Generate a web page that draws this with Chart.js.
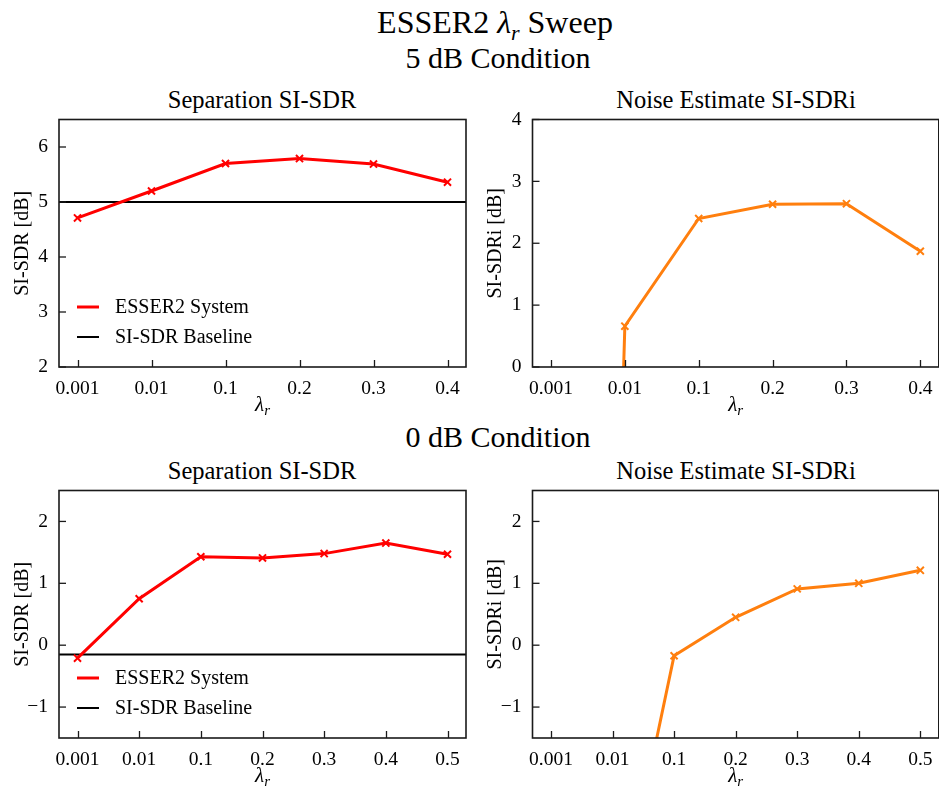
<!DOCTYPE html>
<html>
<head>
<meta charset="utf-8">
<script src="https://cdn.jsdelivr.net/npm/chart.js@4"></script>
<style>
  body { margin: 0; background: #fff; }
  #fig { position: relative; width: 939px; height: 793px; overflow: hidden; background: #fff;
         font-family: "Liberation Serif", "Times New Roman", serif; color: #000; }
  .txt { position: absolute; white-space: nowrap; transform: translateX(-50%); line-height: 1; }
  canvas { position: absolute; }
</style>
</head>
<body>
<div id="fig">
  <div class="txt" style="left:495px; top:6px; font-size:32px;">ESSER2 <i>λ<sub style="font-size:22px;">r</sub></i> Sweep</div>
  <div class="txt" style="left:498px; top:43px; font-size:30px;">5 dB Condition</div>
  <div class="txt" style="left:498px; top:422px; font-size:30px;">0 dB Condition</div>
  <div class="txt" style="left:262px; top:88px; font-size:24.5px;">Separation SI-SDR</div>
  <div class="txt" style="left:736px; top:88px; font-size:24.5px;">Noise Estimate SI-SDRi</div>
  <div class="txt" style="left:262px; top:459px; font-size:24.5px;">Separation SI-SDR</div>
  <div class="txt" style="left:736px; top:459px; font-size:24.5px;">Noise Estimate SI-SDRi</div>
  <canvas id="c5sep" width="470" height="310" style="left:0; top:110px;"></canvas>
  <canvas id="c5noise" width="469" height="310" style="left:470px; top:110px;"></canvas>
  <canvas id="c0sep" width="470" height="310" style="left:0; top:481px;"></canvas>
  <canvas id="c0noise" width="469" height="310" style="left:470px; top:481px;"></canvas>
</div>
<script>
// lambda_r values on the x axis
const lambdas5 = ['0.001', '0.01', '0.1', '0.2', '0.3', '0.4'];
const lambdas0 = ['0.001', '0.01', '0.1', '0.2', '0.3', '0.4', '0.5'];

// 5 dB condition
const sep5 = [4.71, 5.20, 5.70, 5.79, 5.69, 5.36];
const baseline5 = 5.0;
const noise5 = [-40, 0.66, 2.40, 2.63, 2.64, 1.87];

// 0 dB condition
const sep0 = [-0.21, 0.75, 1.43, 1.41, 1.48, 1.65, 1.47];
const baseline0 = -0.15;
const noise0 = [-9, -4.9, -0.17, 0.45, 0.91, 1.00, 1.21];

// y tick labels
const yTicksSep5 = [2, 3, 4, 5, 6];
const yTicksNoise5 = [0, 1, 2, 3, 4];
const yTicks0 = [-1, 0, 1, 2];

Chart.defaults.font.family = '"Liberation Serif", "Times New Roman", serif';
Chart.defaults.color = '#000';

const RED = '#ff0000';
const ORANGE = '#ff7f0e';

// frame, inward ticks, lambda_r label and the legend inside the axes
const axesDecor = {
    id: 'axesDecor',
    afterDatasetsDraw(chart, args, opts) {
        const { ctx, chartArea: a, scales } = chart;
        ctx.save();
        ctx.strokeStyle = '#1a1a1a';
        ctx.lineWidth = 1.3;
        scales.x.ticks.forEach(t => {
            const px = Math.round(scales.x.getPixelForValue(t.value)) + 0.5;
            ctx.beginPath(); ctx.moveTo(px, a.bottom); ctx.lineTo(px, a.bottom - 7); ctx.stroke();
        });
        scales.y.ticks.forEach(t => {
            const py = scales.y.getPixelForValue(t.value);
            ctx.beginPath(); ctx.moveTo(a.left, py); ctx.lineTo(a.left + 7, py); ctx.stroke();
        });
        ctx.lineWidth = 1.6;
        ctx.strokeRect(a.left, a.top, a.width, a.height);

        // x axis title: italic lambda with subscript r
        ctx.fillStyle = '#000';
        ctx.textBaseline = 'alphabetic';
        ctx.font = 'italic 21px "Liberation Serif"';
        const wl = ctx.measureText('λ').width;
        ctx.font = 'italic 15px "Liberation Serif"';
        const wr = ctx.measureText('r').width;
        const x0 = (a.left + a.right) / 2 - (wl + wr) / 2;
        const yb = a.bottom + 44;
        ctx.font = 'italic 21px "Liberation Serif"';
        ctx.fillText('λ', x0, yb);
        ctx.font = 'italic 15px "Liberation Serif"';
        ctx.fillText('r', x0 + wl, yb + 4);

        if (opts.legend) {
            ctx.font = '20px "Liberation Serif"';
            ctx.textBaseline = 'middle';
            chart.data.datasets.forEach((ds, i) => {
                const y = a.bottom - 60 + i * 30;
                ctx.strokeStyle = ds.borderColor;
                ctx.lineWidth = ds.borderWidth;
                ctx.beginPath(); ctx.moveTo(a.left + 18, y); ctx.lineTo(a.left + 40, y); ctx.stroke();
                ctx.fillText(ds.label, a.left + 56, y + 1);
            });
        }
        ctx.restore();
    }
};

function systemSet(label, values, color) {
    return {
        label: label,
        data: values.map((v, i) => ({ x: i, y: v })),
        borderColor: color,
        backgroundColor: color,
        borderWidth: 3,
        pointStyle: 'crossRot',
        pointRadius: 5,
        pointBorderWidth: 2,
        pointBorderColor: color,
        tension: 0
    };
}

function baselineSet(value, n, pad) {
    return {
        label: 'SI-SDR Baseline',
        data: [{ x: -pad, y: value }, { x: n - 1 + pad, y: value }],
        borderColor: '#000',
        borderWidth: 2,
        pointRadius: 0
    };
}

function makeChart(id, labels, datasets, yMin, yMax, yTicks, yTitle, yWidth, titlePad, rightPad, legend) {
    const pad = (labels.length - 1) * 0.05;
    return new Chart(document.getElementById(id), {
        type: 'line',
        data: { datasets: datasets },
        options: {
            responsive: false,
            animation: false,
            layout: { autoPadding: false, padding: { top: 9.5, right: rightPad, left: 0, bottom: 0 } },
            plugins: {
                legend: { display: false },
                tooltip: { enabled: false },
                axesDecor: { legend: legend }
            },
            scales: {
                x: {
                    type: 'linear',
                    min: -pad,
                    max: labels.length - 1 + pad,
                    afterBuildTicks: s => { s.ticks = labels.map((_, i) => ({ value: i })); },
                    afterFit: s => { s.height = 53; s.paddingLeft = 0; s.paddingRight = 0; },
                    grid: { display: false },
                    border: { display: false },
                    ticks: {
                        font: { size: 19.5 },
                        padding: 2,
                        maxRotation: 0,
                        autoSkip: false,
                        callback: v => labels[v]
                    }
                },
                y: {
                    min: yMin,
                    max: yMax,
                    afterBuildTicks: s => { s.ticks = yTicks.map(v => ({ value: v })); },
                    afterFit: s => { s.width = yWidth; s.paddingTop = 0; s.paddingBottom = 0; },
                    grid: { display: false },
                    border: { display: false },
                    ticks: {
                        font: { size: 19.5 },
                        padding: 3,
                        callback: v => String(v).replace('-', '\u2212')
                    },
                    title: {
                        display: true,
                        text: yTitle,
                        font: { size: 20 },
                        padding: { top: titlePad, bottom: 0 }
                    }
                }
            }
        },
        plugins: [axesDecor]
    });
}

makeChart('c5sep', lambdas5,
    [systemSet('ESSER2 System', sep5, RED), baselineSet(baseline5, lambdas5.length, 0.25)],
    2, 6.5, yTicksSep5, 'SI-SDR [dB]', 59, 11, 4, true);

makeChart('c5noise', lambdas5,
    [systemSet('ESSER2 System', noise5, ORANGE)],
    0, 4, yTicksNoise5, 'SI-SDRi [dB]', 62.5, 14, 0.2, false);

makeChart('c0sep', lambdas0,
    [systemSet('ESSER2 System', sep0, RED), baselineSet(baseline0, lambdas0.length, 0.3)],
    -1.5, 2.5, yTicks0, 'SI-SDR [dB]', 59, 11, 4, true);

makeChart('c0noise', lambdas0,
    [systemSet('ESSER2 System', noise0, ORANGE)],
    -1.5, 2.5, yTicks0, 'SI-SDRi [dB]', 62.5, 14, 0.2, false);
</script>
</body>
</html>
